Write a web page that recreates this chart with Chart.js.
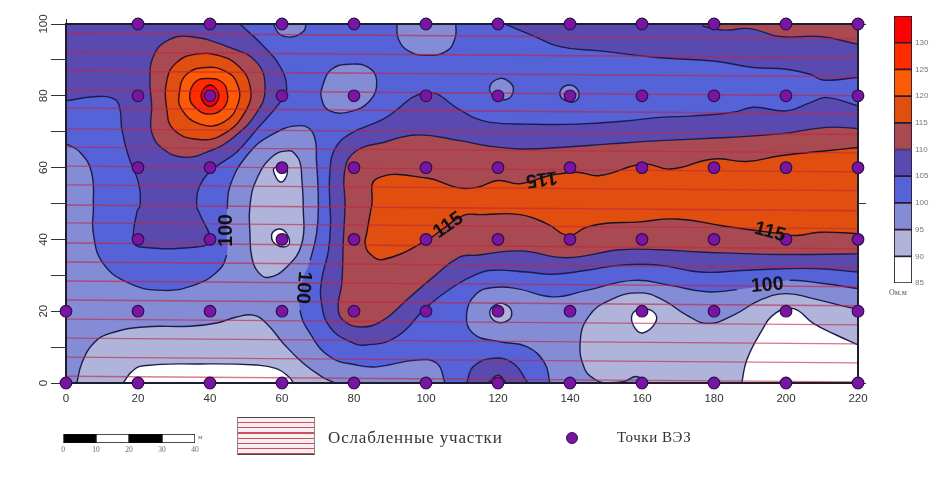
<!DOCTYPE html>
<html lang="ru">
<head>
<meta charset="utf-8">
<title>Контурная карта</title>
<script src="https://cdn.jsdelivr.net/npm/chart.js@4"></script>
<style>
html,body{margin:0;padding:0;background:#fff;width:948px;height:479px;overflow:hidden}
canvas{position:absolute;filter:blur(0.45px)}
.t{position:absolute;white-space:nowrap;color:#333;font-family:"Liberation Serif",serif}
#hatch{position:absolute;left:237px;top:417px;width:78px;height:38px;box-sizing:border-box;
border-top:1.5px solid #444;border-bottom:1.5px solid #444;border-left:1px solid #888;border-right:1px solid #888;
background:repeating-linear-gradient(180deg,#fbeef0 0,#fbeef0 4px,#c8505f 4px,#c8505f 5.2px)}
#dot{position:absolute;left:566px;top:432px;width:10px;height:10px;border-radius:50%;background:#7a14a2;border:1px solid #2c1050}
</style>
</head>
<body>
<canvas id="main" width="948" height="479" style="left:0;top:0"></canvas>
<canvas id="bar" width="64" height="300" style="left:880px;top:6px"></canvas>
<canvas id="sc" width="170" height="34" style="left:50px;top:428px"></canvas>
<div id="hatch"></div>
<div class="t" style="left:328px;top:428px;font-size:17px;letter-spacing:0.85px">Ослабленные участки</div>
<div class="t" style="left:617px;top:429px;font-size:15px;letter-spacing:0.55px">Точки ВЭЗ</div>
<div id="dot"></div>
<div class="t" style="left:889px;top:288px;font-size:8px;color:#555">Ом.м</div>
<div class="t" style="left:198px;top:433px;font-size:7px;color:#666">м</div>
<script>
// ---------- axis ticks ----------
const xTicks = [0,20,40,60,80,100,120,140,160,180,200,220];
const yTicks = [0,20,40,60,80,100];

// ---------- VES sounding points (x positions per profile y) ----------
const dotsY100 = [20,40,60,80,100,120,140,160,180,200,220];
const dotsY80  = [20,40,60,80,100,120,140,160,180,200,220];
const dotsY60  = [20,40,60,80,100,120,140,160,180,200,220];
const dotsY40  = [20,40,60,80,100,120,140,160,180,200,220];
const dotsY20  = [0,20,40,60,80,100,120,140,160,180,200,220];
const dotsY0   = [0,20,40,60,80,100,120,140,160,180,200,220];

// ---------- colour scale ----------
const levelLo = [85,90,95,100,105,110,115,120,125,130];
const levelHi = [90,95,100,105,110,115,120,125,130,135];
const levelColors = ['#ffffff','#b0b4da','#858cd6','#5662d8','#5a4ab0','#a94a52','#e04e10','#fb5a06','#ff2c00','#ff0000'];

// ---------- contour outlines [x,y] ----------
const domain = [[0,0],[0,0],[220,0],[220,0],[220,100],[220,100],[0,100],[0,100]];
const c100Left = [[0,66.6],[3.9,64.3],[7.1,58.7],[7.6,49.4],[7.6,41.6],[10.4,33.2],[17.8,27.7],[27,25.8],[35.4,27.2],[41.9,30.9],[44.6,35.6],[44.6,41.6],[44.8,48.5],[45.6,55],[50.2,63.3],[56.7,68.9],[65,71.7],[68.7,69.4],[69.6,61.5],[70.1,49.4],[69.6,41.6],[67.8,34.2],[65.5,27.7],[65,20.3],[67.8,13.8],[73.3,7.3],[80.7,5],[86.3,4.5],[97.4,6.4],[103,5.5],[105.3,0],[105.3,0],[0,0],[0,0],[0,66.6]];
const c100Right = [[134.4,0],[133,5.5],[128,10.1],[120.6,11.5],[113.1,13.8],[111.3,19.4],[114.1,24.9],[118.7,26.6],[125.2,26.3],[135.4,24],[144.6,25.8],[157.6,28.6],[167.8,27.2],[178,25.4],[186.3,26],[194.8,27.2],[201,28.6],[210.3,27.7],[220,26.3],[220,26.3],[220,0],[220,0],[134.4,0]];
const c95Mid = [[62.2,64.7],[57.6,63.3],[53,56.9],[51.1,49.4],[51.1,41.6],[51.6,35.1],[53.4,30.9],[56.2,29.4],[61.3,32.3],[65.5,38.8],[65.9,49],[65.5,56.9],[65,61.5],[63.6,63.8],[62.2,64.7]];
const c95Bottom = [[3,0],[4.4,5.5],[7.6,11],[12.2,13.8],[21.5,15.6],[34.4,15.8],[41.9,16.7],[47.4,18.4],[52,18.9],[55.7,16.6],[60.4,11],[65.9,5.5],[71,1.8],[74.7,0],[74.7,0],[3,0]];
const c95Right = [[161.3,0],[158.5,1.8],[154.8,0.4],[149.2,0.1],[146.5,1.3],[144.2,3.6],[142.8,11],[145.1,18.4],[151.1,23.1],[159.4,25.1],[165.9,23.1],[172.4,18.9],[178.4,16.6],[185.4,18.9],[192.8,23.1],[200,24.9],[207.6,23.5],[217.8,21],[220,21],[220,21],[220,0],[220,0],[161.3,0]];
const c95Ring120 = [[120,22.1],[117.7,19.8],[119.6,17],[122.9,17.5],[123.8,19.8],[122.4,21.7],[120,22.1]];
const c90Bottom = [[15.9,0],[18.2,3.1],[21.5,4.8],[37.2,5.3],[52.9,5],[58.5,4],[61.8,1.8],[63.2,0],[63.2,0],[15.9,0]];
const c90Right = [[187.7,0],[189.1,6.4],[192.8,13.8],[197,19.4],[202.1,20.7],[207.6,16.6],[214.1,13.3],[220,10.6],[220,10.6],[220,0],[220,0],[187.7,0]];
const c90Spot160 = [[160,20.7],[157.2,18.9],[158.1,15.2],[160.4,14],[163.6,16.6],[163.6,19.4],[160,20.7]];
const c90Spot60a = [[57.8,58.5],[59.5,56],[61.2,57.5],[61,60],[58,60],[57.8,58.5]];
const c90Spot60b = [[57.1,41.1],[59,42.9],[61.3,41.6],[61.8,38.4],[58.6,38.4],[57.1,41.1]];
const c105Main = [[220,77.2],[211.3,79.5],[206.7,78.1],[200.2,75.8],[191,76.8],[185.4,75.4],[174.3,74.4],[165,74],[155.7,73],[141.8,72.1],[128,72.1],[117.8,72.6],[113.1,74],[109.4,76.1],[100.2,80.9],[88.1,73.5],[78.9,69.4],[74.7,65.2],[73.3,58.7],[73.3,49.4],[73.5,45.3],[72.9,36.9],[71,28.6],[71,22.1],[73.3,15.6],[78.9,11.5],[83.5,10.6],[91.9,12.9],[100.2,21.2],[107.6,26.8],[114.1,30.3],[118.7,31.4],[128,30.9],[135.4,30.3],[144.6,31.4],[153.9,32.8],[165,32.8],[176.1,30.9],[188.9,31.4],[207.6,31.9],[220,30.9],[220,30.9],[220,77.2],[220,77.2]];
const c110Main = [[220,70.9],[211.3,71.2],[198.3,69.4],[183.5,68.4],[165,67.5],[151.1,66.6],[137.2,65.6],[126.1,65.2],[116.9,66.1],[109.4,67.5],[97.4,69.1],[88.1,67],[80.7,64.7],[77.5,59.6],[77.5,49.4],[77,38.8],[76.6,27.7],[75.6,21.2],[77,17.5],[82.1,15.6],[88.1,17.5],[94.6,23.1],[102,29.5],[109.4,35.1],[114.1,35.6],[126.1,36.8],[139,34.9],[153.9,37.1],[165,37.1],[176.1,36.5],[198.3,35.8],[220,36],[220,36],[220,70.9],[220,70.9]];
const c115Main = [[220,65.6],[211.3,64.7],[198.3,63.3],[189.1,61.7],[179.8,62.4],[167.8,59.6],[160.4,61],[148.4,57.8],[141.8,58.7],[134.4,57.8],[126.1,55.5],[120,56.4],[114.1,54.5],[108.5,54.5],[100.2,57.1],[86.3,56.9],[84.9,49.4],[83.5,41.6],[83.1,38.8],[84.4,36],[88.1,34.4],[100.2,39.7],[104.8,43],[110.4,46.7],[115,46.9],[126.1,46.9],[133.5,44.4],[139.5,41.1],[144.6,43.4],[150.1,44.5],[158.5,44.8],[169.6,45.7],[183.5,43.6],[198.3,41.6],[203,41.1],[209.4,42],[220,41.6],[220,41.6],[220,65.6],[220,65.6]];
const c105NW = [[0,78.6],[8.5,79.8],[13.6,79],[15,76.3],[15.5,70.7],[17.3,63.3],[20.1,55.9],[20.6,49.4],[19.8,48],[18.7,39.7],[20.6,37.9],[36.3,37.9],[40,39.7],[37.2,47],[36.3,49.4],[37.2,55],[40.9,59.6],[47.4,64.3],[53,70.7],[59.4,78.1],[61.3,81.9],[59.4,88.3],[54.8,93.9],[48.3,100],[48.3,100],[0,100],[0,100],[0,78.6],[0,78.6]];
const c110Peak = [[34.4,96.5],[28,95.3],[24.3,91.1],[23.3,84.6],[23.8,77.2],[23.8,69.8],[27,65.2],[32.6,62.9],[39.1,64.3],[46.5,68.4],[53,75.4],[55.3,81.9],[53,89.3],[45.6,93.4],[34.4,96.5]];
const c115Peak = [[36.3,91.6],[30.7,89.3],[28,84.2],[28,76.3],[29.8,70.7],[36.3,67.9],[43.7,69.3],[50.2,76.3],[51.1,82.8],[47.9,88.3],[42.8,91.1],[36.3,91.6]];
const c120Peak = [[39,87.9],[33.5,86],[31.5,80.9],[32.1,76.3],[37.2,72.1],[43.7,72.6],[47.9,78.1],[47.4,83.7],[44.2,86.9],[39,87.9]];
const c125Peak = [[40,84.8],[36.3,84.2],[34.4,80.5],[35.4,77.2],[40,74.9],[44.2,77.2],[44.6,81.9],[42.8,84.2],[40,84.8]];
const c130Peak = [[40,83],[37.5,80],[40,77],[42.5,80],[40,83]];
const c105NE = [[122,100],[123.3,99.4],[129.8,96.7],[137.2,93.7],[148.3,92.5],[165,90.6],[179.8,89.7],[191,87.9],[200.2,87.4],[206.7,86],[210.3,84.4],[220,85.1],[220,85.1],[220,100],[220,100],[122,100]];
const c110NE = [[177,100],[177,99.4],[182.6,98.3],[190,98.7],[198.3,96.5],[209.4,96.5],[220,94.4],[220,94.4],[220,100],[220,100],[177,100]];
const c105South = [[111.3,0],[113.1,4.5],[118.7,6.9],[124.2,5.5],[128.3,0],[128.3,0],[111.3,0]];
const c115South = [[117.3,0],[120,2.2],[122.3,0],[122.3,0],[117.3,0]];
const c100TopA = [[57.6,100],[59.4,97.1],[62.7,96.4],[66,98],[66.7,100],[66.7,100],[57.6,100]];
const c100TopB = [[91.9,100],[92.3,95.9],[95.1,92.5],[100.2,91.3],[105.8,92.5],[108.1,96.2],[108.3,100],[108.3,100],[91.9,100]];
const c100Isle = [[78.9,88.8],[73.8,87.4],[71.3,82.8],[71,79.1],[73.3,75.8],[78.9,75.6],[84.4,78.6],[86.3,84.2],[84,87.9],[78.9,88.8]];
const c100Spot120 = [[120.4,84.8],[117.8,82.8],[118.7,80],[122.4,79],[124.3,81.7],[122.9,84.1],[120.4,84.8]];
const c100Spot140 = [[139.5,83],[137.2,81],[138.6,78.7],[141.8,78.7],[142.3,81.4],[139.5,83]];

// ---------- start vertices of contour segments broken by a label ----------
const gapStartX = [44.6,44.6,67.8,65.5,186.3,194.8];
const gapStartY = [35.6,41.6,34.2,27.7,26,27.2];

// ---------- weakened-zone hatching: y at x=0 and y at x=220 ----------
const hatchLeft  = [97.5,92.2,86.9,81.6,76.6,70.8,65.7,60.4,55.2,49.6,44.6,39.0,33.7,28.4,23.1,17.8,12.5,7.2,1.9];
const hatchRight = [95.9,90.6,85.3,80.0,75.0,69.2,64.1,58.8,53.6,48.0,43.0,37.4,32.1,26.8,21.5,16.2,10.9,5.6,0.3];

// ---------- contour labels ----------
const labelText = ['100','100','115','115','115','100'];
const labelX    = [44.6,65.9,106.2,132.1,195.5,194.8];
const labelY    = [42.5,26.6,43.9,56.9,42,27.2];
const labelRot  = [-90,95,-35,172,15,-5];

// ---------- scale bar ----------
const scaleStart = [0,10,20,30];
const scaleEnd   = [10,20,30,40];
const scaleFill  = ['#000000','#ffffff','#000000','#ffffff'];

const [Cw,Ca,Cb,Cc,Cd,Ce,Cf,Cg,Ch,Ci] = levelColors;
const pts = a => a.map(p => ({x:p[0],y:p[1]}));
const OPEN = 0, RING = 1;
// wrap a closed ring past its start so the spline has no kink where it closes
const ring = a => [a[a.length-2],...a,a[1]];
const navy = '#1b1b4e', maroon = '#3a0c1e';
const layers = [
 [c100Left,Cb,navy,OPEN],[c100Right,Cb,navy,OPEN],[c95Mid,Ca,navy,RING],[c95Bottom,Ca,navy,OPEN],[c95Right,Ca,navy,OPEN],[c95Ring120,Ca,navy,RING],
 [c90Bottom,Cw,navy,OPEN],[c90Right,Cw,navy,OPEN],[c90Spot160,Cw,navy,RING],[c90Spot60a,Cw,navy,RING],[c90Spot60b,Cw,navy,RING],
 [c105Main,Cd,navy,OPEN],[c110Main,Ce,navy,OPEN],[c115Main,Cf,'#1a1020',OPEN],[c105NW,Cd,navy,OPEN],[c110Peak,Ce,navy,RING],[c115Peak,Cf,maroon,RING],[c120Peak,Cg,maroon,RING],[c125Peak,Ch,maroon,RING],[c130Peak,Ci,maroon,RING],
 [c105NE,Cd,navy,OPEN],[c110NE,Ce,navy,OPEN],[c105South,Cd,navy,OPEN],[c115South,Cf,navy,OPEN],[c100TopA,Cb,navy,OPEN],[c100TopB,Cb,navy,OPEN],[c100Isle,Cb,navy,RING],[c100Spot120,Cb,navy,RING],[c100Spot140,Cb,navy,RING]
];
const isGap = p => gapStartX.some((x,i) => x===p.x && gapStartY[i]===p.y);
const clear = 'rgba(0,0,0,0)';
const datasets = [];
datasets.push({data:pts(domain),showLine:true,fill:'shape',backgroundColor:Cc,borderWidth:0,borderColor:clear,tension:0.45,pointRadius:0,order:5000});
layers.forEach((l,i) => {
  const isRing = l[3]===RING;
  const path = pts(isRing ? ring(l[0]) : l[0]);
  const last = path.length-1;
  datasets.push({data:path,showLine:true,fill:'shape',backgroundColor:l[1],borderColor:clear,borderWidth:0,tension:0.45,pointRadius:0,order:4000-i*2});
  datasets.push({data:path,showLine:true,fill:false,borderColor:l[2],borderWidth:1.4,tension:0.45,pointRadius:0,order:4000-i*2-1,
    segment:{borderColor:ctx => (isGap(ctx.p0.parsed) || (isRing && (ctx.p0DataIndex===0 || ctx.p1DataIndex===last))) ? clear : l[2]}});
});
hatchLeft.forEach((v,i) => datasets.push({
  data:[{x:0,y:v},{x:220,y:hatchRight[i]}], showLine:true, fill:false, borderColor:'rgba(196,36,62,0.62)',
  borderWidth:1.4, pointRadius:0, tension:0, order:100-i
}));
datasets.push({data:pts([[0,0],[220,0],[220,100],[0,100],[0,0]]),showLine:true,fill:false,borderColor:'#1d1d2e',borderWidth:2,pointRadius:0,tension:0,clip:false,order:2});
const dotData = [];
[[100,dotsY100],[80,dotsY80],[60,dotsY60],[40,dotsY40],[20,dotsY20],[0,dotsY0]].forEach(r => r[1].forEach(x => dotData.push({x:x,y:r[0]})));
datasets.push({data:dotData,showLine:false,pointRadius:5.8,pointBorderWidth:1.2,pointBackgroundColor:'#7a14a2',pointBorderColor:'#2c1050',clip:false,order:1});

const contourText = {
  id:'contourText',
  afterDatasetsDraw(ch){
    const c = ch.ctx;
    labelText.forEach((t,i) => {
      c.save();
      c.translate(ch.scales.x.getPixelForValue(labelX[i]), ch.scales.y.getPixelForValue(labelY[i]));
      c.rotate(labelRot[i]*Math.PI/180);
      c.font = 'bold 19.5px "Liberation Sans",sans-serif';
      c.fillStyle = '#111';
      c.textAlign='center'; c.textBaseline='middle';
      c.fillText(t,0,0);
      c.restore();
    });
  }
};

const fit = (prop,val) => s => { s[prop] = val; };
new Chart(document.getElementById('main'),{
  type:'scatter',
  data:{datasets},
  plugins:[contourText],
  options:{
    responsive:false, animation:false, events:[],
    layout:{padding:{left:0,top:18,right:82,bottom:70}},
    plugins:{legend:{display:false},tooltip:{enabled:false}},
    scales:{
      x:{type:'linear',position:'bottom',min:0,max:220,afterFit:fit('height',26),
         afterBuildTicks:s=>{s.ticks=xTicks.map(v=>({value:v}));},
         border:{display:false},grid:{drawOnChartArea:false,color:'#333',tickLength:5},
         ticks:{maxRotation:0,padding:4,color:'#333',font:{family:'"Liberation Sans",sans-serif',size:11.5}}},
      y:{type:'linear',position:'left',min:0,max:100,afterFit:fit('width',66),
         border:{display:false},grid:{drawOnChartArea:false,color:'#333',tickLength:15},
         ticks:{stepSize:10,autoSkip:false,minRotation:90,maxRotation:90,crossAlign:'center',padding:-2,color:'#333',
                font:{family:'"Liberation Sans",sans-serif',size:11.5},
                callback:v=>yTicks.includes(v)?String(v):''}},
      xTop:{type:'linear',position:'top',min:0,max:220,afterFit:fit('height',6),
         afterBuildTicks:s=>{s.ticks=xTicks.map(v=>({value:v}));},
         border:{display:false},grid:{drawOnChartArea:false,color:'#333',tickLength:5},ticks:{display:false}},
      yRight:{type:'linear',position:'right',min:0,max:100,afterFit:fit('width',8),
         border:{display:false},grid:{drawOnChartArea:false,color:'#333',tickLength:8},ticks:{display:false,stepSize:50}}
    }
  }
});

// colour bar
new Chart(document.getElementById('bar'),{
  type:'bar',
  data:{labels:[''],datasets:levelLo.map((lo,i)=>({data:[[lo,levelHi[i]]],backgroundColor:levelColors[i],borderColor:'#2a1a30',borderWidth:1.2,borderSkipped:false,grouped:false,barPercentage:1,categoryPercentage:1}))},
  options:{
    responsive:false,animation:false,events:[],
    layout:{padding:{left:14,top:10,right:0,bottom:23}},
    plugins:{legend:{display:false},tooltip:{enabled:false}},
    scales:{
      x:{display:false},
      y:{position:'right',min:85,max:135,afterFit:fit('width',32),
         border:{display:false},grid:{drawOnChartArea:false,drawTicks:false},
         ticks:{stepSize:5,padding:3,color:'#777',font:{family:'"Liberation Sans",sans-serif',size:8},callback:v=>v===135?'':String(v)}}
    }
  }
});

// scale bar
new Chart(document.getElementById('sc'),{
  type:'bar',
  data:{labels:[''],datasets:scaleStart.map((s,i)=>({data:[[s,scaleEnd[i]]],backgroundColor:scaleFill[i],borderColor:'#111',borderWidth:1,borderSkipped:false,grouped:false,barPercentage:1,categoryPercentage:1}))},
  options:{
    indexAxis:'y',responsive:false,animation:false,events:[],
    layout:{padding:{left:13,top:6,right:25,bottom:0}},
    plugins:{legend:{display:false},tooltip:{enabled:false}},
    scales:{
      y:{display:false},
      x:{position:'bottom',min:0,max:40,afterFit:fit('height',19),
         border:{display:false},grid:{drawOnChartArea:false,drawTicks:false},
         ticks:{stepSize:10,padding:3,maxRotation:0,color:'#666',font:{family:'"Liberation Serif",serif',size:7.5}}}
    }
  }
});
</script>
</body>
</html>
